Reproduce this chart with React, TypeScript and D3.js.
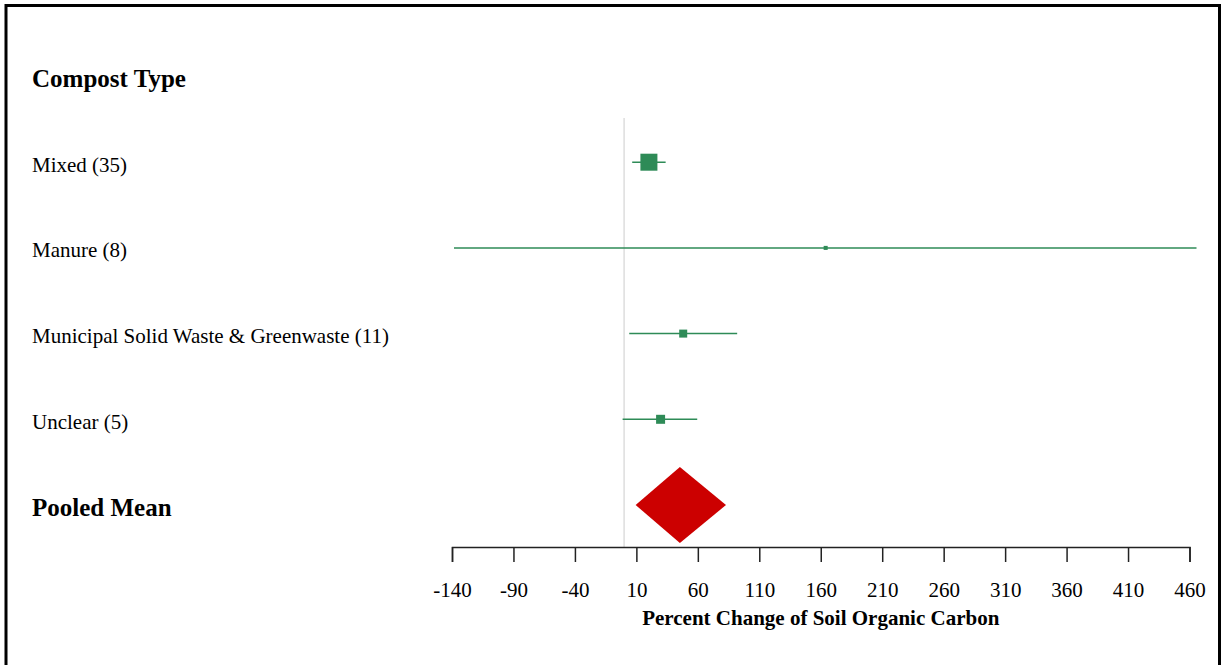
import * as d3 from 'd3';
import React, { useEffect, useRef } from 'react';

// rows of the forest plot, top to bottom
const rowLabels = ['Compost Type', 'Mixed (35)', 'Manure (8)', 'Municipal Solid Waste & Greenwaste (11)', 'Unclear (5)', 'Pooled Mean'];
const headerRows = ['Compost Type', 'Pooled Mean'];

// study groups: estimate and 95% CI (percent change)
const groups = ['Mixed (35)', 'Manure (8)', 'Municipal Solid Waste & Greenwaste (11)', 'Unclear (5)'];
const estimates = [20.2, 164, 48.1, 29.7];
const lower = [6.6, -138.4, 4.2, -1.2];
const upper = [33.8, 465.7, 92, 59.5];
const weights = [64.2, 3.6, 14.2, 18];

// pooled
const pooled = { est: 45.4, lo: 9.4, hi: 82.9 };

const tickValues = [-140, -90, -40, 10, 60, 110, 160, 210, 260, 310, 360, 410, 460];
const xTitle = 'Percent Change of Soil Organic Carbon';

function App() {
    const ref = useRef(null);

    useEffect(() => {
        const svg = d3.select(ref.current);
        svg.selectAll('*').remove();

        const font = '"Liberation Serif", "Times New Roman", serif';
        const green = '#2e8b57';

        // frame
        svg.append('rect')
            .attr('x', 6).attr('y', 5.5)
            .attr('width', 1213.5).attr('height', 700)
            .attr('fill', 'white')
            .attr('stroke', '#000')
            .attr('stroke-width', 3);

        const x = d3.scaleLinear().domain([-140, 460]).range([452, 1189.5]);
        const y = d3.scalePoint().domain(rowLabels).range([76.5, 505]);
        const size = d3.scaleSqrt().domain([0, d3.max(weights)]).range([0, 17]);

        const axisY = 547;

        // zero reference line
        svg.append('line')
            .attr('x1', x(0)).attr('x2', x(0))
            .attr('y1', 118).attr('y2', axisY)
            .attr('stroke', '#d4d4d4')
            .attr('stroke-width', 1.2);

        // row labels
        svg.selectAll('text.row')
            .data(rowLabels)
            .enter()
            .append('text')
            .attr('class', 'row')
            .attr('x', 32)
            .attr('y', d => y(d) + 2)
            .attr('dy', '0.35em')
            .style('font-family', font)
            .style('font-size', d => headerRows.includes(d) ? '25px' : '21px')
            .style('font-weight', d => headerRows.includes(d) ? 'bold' : 'normal')
            .style('fill', '#000')
            .text(d => d);

        // confidence intervals
        const g = svg.append('g');
        g.selectAll('line.ci')
            .data(groups)
            .enter()
            .append('line')
            .attr('class', 'ci')
            .attr('x1', (d, i) => x(lower[i]))
            .attr('x2', (d, i) => x(upper[i]))
            .attr('y1', d => y(d)).attr('y2', d => y(d))
            .attr('stroke', green)
            .attr('stroke-width', 1.5);

        g.selectAll('rect.est')
            .data(groups)
            .enter()
            .append('rect')
            .attr('class', 'est')
            .attr('x', (d, i) => x(estimates[i]) - size(weights[i]) / 2)
            .attr('y', (d, i) => y(d) - size(weights[i]) / 2)
            .attr('width', (d, i) => size(weights[i]))
            .attr('height', (d, i) => size(weights[i]))
            .attr('fill', green);

        // pooled diamond
        const py = y('Pooled Mean');
        const half = 38;
        svg.append('path')
            .attr('d', `M${x(pooled.lo)},${py} L${x(pooled.est)},${py - half} L${x(pooled.hi)},${py} L${x(pooled.est)},${py + half} Z`)
            .attr('fill', '#cc0000');

        // axis
        const axis = d3.axisBottom(x)
            .tickValues(tickValues)
            .tickSize(15)
            .tickPadding(20)
            .tickFormat(d => String(d));

        const ax = svg.append('g')
            .attr('transform', `translate(0,${axisY})`)
            .call(axis);
        ax.select('.domain').attr('stroke', '#222').attr('stroke-width', 1.5);
        ax.selectAll('.tick line').attr('stroke', '#222').attr('stroke-width', 1.5);
        ax.selectAll('.tick text')
            .style('font-family', font)
            .style('font-size', '21px')
            .attr('fill', '#000');

        svg.append('text')
            .attr('x', (x(-140) + x(460)) / 2)
            .attr('y', 625)
            .attr('text-anchor', 'middle')
            .style('font-family', font)
            .style('font-size', '21px')
            .style('font-weight', 'bold')
            .text(xTitle);
    }, []);

    return (
        <svg ref={ref} width={1225} height={665} style={{ position: 'absolute', left: 0, top: 0 }}></svg>
    );
}

export default App;
